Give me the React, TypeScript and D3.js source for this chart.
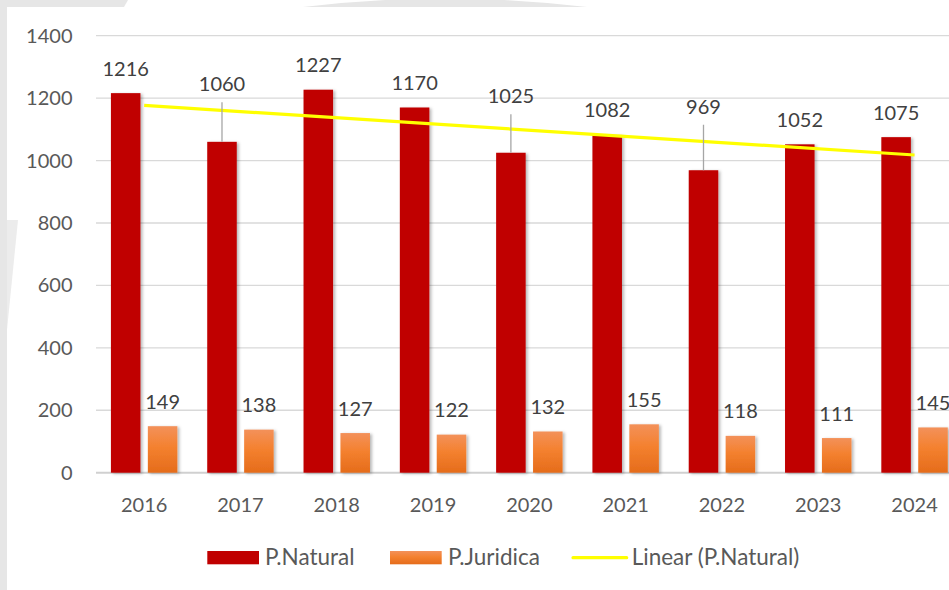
import React from "react";
import * as d3 from "d3";

const years = ["2016", "2017", "2018", "2019", "2020", "2021", "2022", "2023", "2024"];
const natural = [1216, 1060, 1227, 1170, 1025, 1082, 969, 1052, 1075];
const juridica = [149, 138, 127, 122, 132, 155, 118, 111, 145];
const yTicks = [0, 200, 400, 600, 800, 1000, 1200, 1400];
const seriesNames = ["P.Natural", "P.Juridica", "Linear (P.Natural)"];
// labels that Excel moved up with a leader line (extra lift in px)
const labelLift: Record<string, number> = { "2017": 33, "2020": 32, "2022": 39 };

const W = 949;
const H = 590;
const FONT = "Lato, 'Open Sans', sans-serif";
const TEXT = "#595959";
const LABEL = "#404040";
const RED = "#C00000";

export default function App() {
  const x0 = d3
    .scaleBand<string>()
    .domain(years)
    .range([96, 962.7])
    .paddingInner(0.31)
    .paddingOuter(0.155);
  const x1 = d3
    .scaleBand<string>()
    .domain(["nat", "jur"])
    .range([0, x0.bandwidth()])
    .paddingInner(0.2);
  const y = d3.scaleLinear().domain([0, 1400]).range([472.7, 35.7]);

  // linear trend of P.Natural
  const n = natural.length;
  const idx = d3.range(n);
  const mx = d3.mean(idx)!;
  const my = d3.mean(natural)!;
  const slope =
    d3.sum(idx, (i) => (i - mx) * (natural[i] - my)) / d3.sum(idx, (i) => (i - mx) * (i - mx));
  const intercept = my - slope * mx;
  const cx = (i: number) => x0(years[i])! + x0.bandwidth() / 2;
  const trend = d3
    .line<number>()
    .x((i) => cx(i))
    .y((i) => y(intercept + slope * i));
  const trendPts = [0, n - 1];

  return (
    <svg
      width={W}
      height={H}
      style={{ position: "fixed", left: 0, top: 0, background: "#fff" }}
      fontFamily={FONT}
    >
      <defs>
        <linearGradient id="orangeGrad" x1="0" y1="0" x2="0" y2="1">
          <stop offset="0" stopColor="#F3915A" />
          <stop offset="0.45" stopColor="#F4812F" />
          <stop offset="1" stopColor="#E56C1B" />
        </linearGradient>
        <filter id="shadow" x="-30%" y="-10%" width="160%" height="130%">
          <feDropShadow dx="2" dy="1" stdDeviation="1.8" floodColor="#000" floodOpacity="0.28" />
        </filter>
      </defs>

      {/* background frame */}
      <rect x={0} y={0} width={W} height={H} fill="#ffffff" />
      <rect x={0} y={0} width={7} height={H} fill="#e6e6e6" />
      <polygon points="0,0 128,0 124,7 0,7" fill="#e6e6e6" />
      <path d="M303,7 Q445,-10 587,7 Z" fill="#e6e6e6" />
      <polygon points="7,220 18,220 7,330" fill="#ececec" />

      {/* gridlines */}
      {yTicks.map((t) => (
        <line
          key={t}
          x1={96}
          x2={W}
          y1={y(t)}
          y2={y(t)}
          stroke={t === 0 ? "#d0d0d0" : "#d9d9d9"}
          strokeWidth={t === 0 ? 2 : 1.3}
        />
      ))}

      {/* y tick labels */}
      {yTicks.map((t) => (
        <text
          key={t}
          x={72.5}
          y={y(t)}
          dy="0.35em"
          textAnchor="end"
          fontSize={20}
          fill={TEXT}
        >
          {t}
        </text>
      ))}

      {/* x labels */}
      {years.map((yr) => (
        <text
          key={yr}
          x={x0(yr)! + x0.bandwidth() / 2}
          y={512}
          textAnchor="middle"
          fontSize={20}
          fill={TEXT}
        >
          {yr}
        </text>
      ))}

      {/* bars */}
      {years.map((yr, i) => (
        <g key={yr} filter="url(#shadow)">
          <rect
            x={x0(yr)! + x1("nat")!}
            y={y(natural[i])}
            width={x1.bandwidth()}
            height={y(0) - y(natural[i])}
            fill={RED}
          />
          <rect
            x={x0(yr)! + x1("jur")!}
            y={y(juridica[i])}
            width={x1.bandwidth()}
            height={y(0) - y(juridica[i])}
            fill="url(#orangeGrad)"
          />
        </g>
      ))}

      {/* trendline */}
      <path d={trend(trendPts)!} fill="none" stroke="#FFFF00" strokeWidth={3.2} />

      {/* data labels */}
      {years.map((yr, i) => {
        const bx = x0(yr)! + x1("nat")! + x1.bandwidth() / 2;
        const top = y(natural[i]);
        const lift = labelLift[yr] || 0;
        const base = top - 17.5 - lift;
        return (
          <g key={yr}>
            {lift > 0 && (
              <line x1={bx} x2={bx} y1={base + 11} y2={top} stroke="#a6a6a6" strokeWidth={1.3} />
            )}
            <text x={bx} y={base} textAnchor="middle" fontSize={20} fill={LABEL}>
              {natural[i]}
            </text>
          </g>
        );
      })}
      {years.map((yr, i) => {
        const bx = x0(yr)! + x1("jur")! + x1.bandwidth() / 2;
        const top = y(juridica[i]);
        return (
          <text key={yr} x={bx} y={top - 17.5} textAnchor="middle" fontSize={20} fill={LABEL}>
            {juridica[i]}
          </text>
        );
      })}

      {/* legend */}
      <rect x={207.3} y={551} width={51.7} height={13.3} fill={RED} />
      <text x={265} y={565} fontSize={22.5} fill={TEXT}>
        {seriesNames[0]}
      </text>
      <rect x={390} y={551} width={51.7} height={13.3} fill="url(#orangeGrad)" />
      <text x={448} y={565} fontSize={22.5} fill={TEXT}>
        {seriesNames[1]}
      </text>
      <line x1={573} x2={626.7} y1={557.7} y2={557.7} stroke="#FFFF00" strokeWidth={3.2} strokeLinecap="round" />
      <text x={631.7} y={565} fontSize={22.5} fill={TEXT}>
        {seriesNames[2]}
      </text>
    </svg>
  );
}
